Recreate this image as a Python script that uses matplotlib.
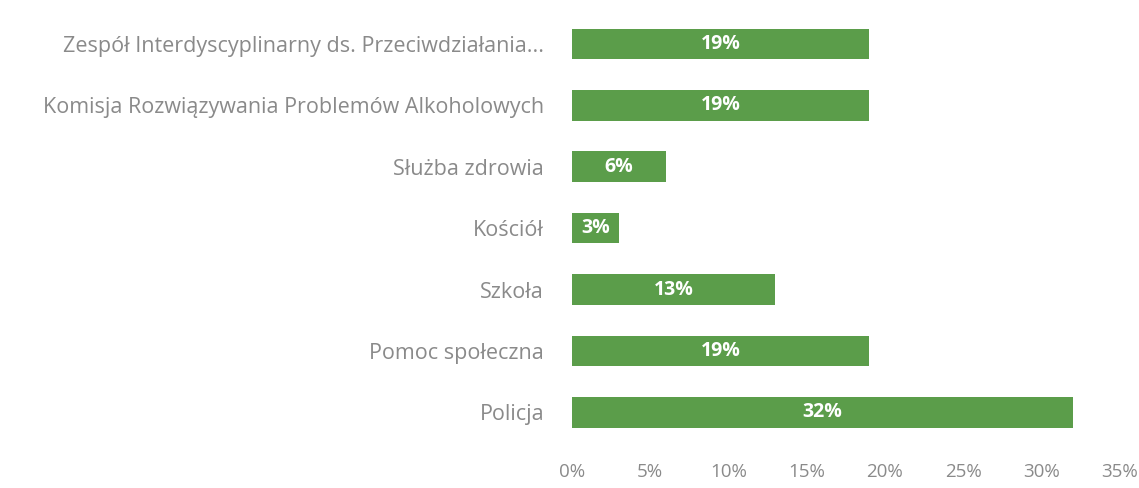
import matplotlib
matplotlib.use("Agg")
import matplotlib.pyplot as plt
from matplotlib.ticker import FuncFormatter

# Data (top to bottom as shown)
categories = [
    "Zespół Interdyscyplinarny ds. Przeciwdziałania...",
    "Komisja Rozwiązywania Problemów Alkoholowych",
    "Służba zdrowia",
    "Kościół",
    "Szkoła",
    "Pomoc społeczna",
    "Policja",
]
values = [19, 19, 6, 3, 13, 19, 32]
x_ticks = [0, 5, 10, 15, 20, 25, 30, 35]

bar_color = "#5b9d4a"
text_gray = "#8a8a8a"

plt.rcParams["font.family"] = ["Open Sans", "DejaVu Sans"]

fig = plt.figure(figsize=(11.39, 4.88), dpi=100)
ax = fig.add_axes([0.502, 0.092, 0.481, 0.881])

ypos = list(range(len(categories)))[::-1]
bars = ax.barh(ypos, values, height=0.5, color=bar_color)

for b, v in zip(bars, values):
    ax.text(b.get_width() / 2, b.get_y() + b.get_height() / 2, f"{v}%",
            ha="center", va="center", color="white", fontsize=14, fontweight="bold")

ax.set_yticks(ypos)
ax.set_yticklabels(categories, fontsize=15.5, color=text_gray)
ax.set_xticks(x_ticks)
ax.xaxis.set_major_formatter(FuncFormatter(lambda x, _: f"{x:.0f}%"))
ax.tick_params(axis="x", labelsize=13.5, labelcolor=text_gray, length=0, pad=14)
ax.tick_params(axis="y", length=0, pad=20)
ax.set_xlim(0, 35)
ax.set_ylim(-0.5, len(categories) - 0.5)

for s in ax.spines.values():
    s.set_visible(False)

fig.savefig("out.png", dpi=100)
